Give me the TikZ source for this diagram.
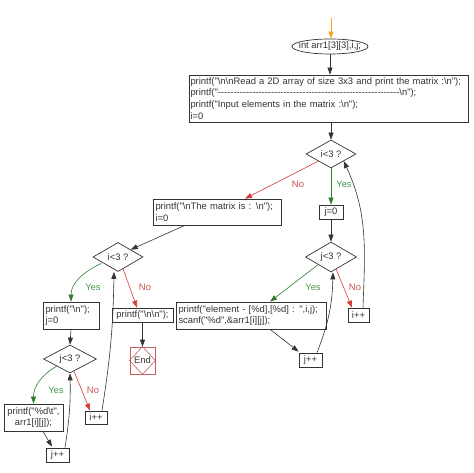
\documentclass[tikz,border=0pt]{standalone}
\usepackage{fontspec}
\setmainfont[Ligatures=TeXOff]{Liberation Sans}
\usetikzlibrary{shapes.geometric,arrows.meta,calc}
\definecolor{ln}{HTML}{333333}
\definecolor{tx}{HTML}{333333}
\definecolor{rl}{HTML}{D63A3A}
\definecolor{rt}{HTML}{C8504D}
\definecolor{gl}{HTML}{2E7D2E}
\definecolor{gt}{HTML}{4A9A4A}
\definecolor{eb}{HTML}{C06060}
\definecolor{og}{HTML}{F5A623}
\newcommand\bs{\textbackslash}
\begin{document}
\begin{tikzpicture}[x=1pt,y=1pt,
  font=\fontsize{9.4}{11.8}\selectfont, text=tx,
  tip/.style={-{Triangle[length=7pt,width=5pt]}},
  conn/.style={tip, draw=ln, line width=0.6pt},
  noline/.style={tip, draw=rl, line width=0.6pt},
  yesline/.style={tip, draw=gl, line width=0.6pt},
  nolab/.style={text=rt},
  yeslab/.style={text=gt},
  box/.style={draw=ln, line width=0.7pt, rectangle, inner sep=0pt, align=center},
  lbox/.style={draw=ln, line width=0.7pt, rectangle, inner xsep=2.5pt, inner ysep=0pt, align=left},
  dia/.style={draw=ln, line width=0.7pt, diamond, inner sep=0pt, aspect=1.7}
]
\useasboundingbox (0,0) rectangle (474,473);

\coordinate (st) at (331,455);
\node[draw=ln, line width=0.7pt, ellipse, inner sep=0pt, minimum width=76pt, minimum height=15pt] (ell) at (330,426.5) {\makebox[0pt]{int arr1[3][3],i,j;}};
\node[lbox, inner xsep=1.5pt, text width=276pt, minimum height=47pt] (box1) at (328.5,374.5) {printf("\bs n\bs nRead a 2D array of size 3x3 and print the matrix :\bs n");\\printf("----------------------------------------------------------\bs n");\\printf("Input elements in the matrix :\bs n");\\i=0};

\node[dia, minimum width=50pt, minimum height=28pt] (dA) at (331,319) {\makebox[0pt]{i<3 ?}};
\node[box, minimum width=24pt, minimum height=14pt] (j0R) at (331,261) {j=0};
\node[dia, minimum width=51pt, minimum height=30pt] (dB) at (331,216) {\makebox[0pt]{j<3 ?}};
\node[lbox, text width=145pt, minimum height=27pt] (elem) at (251,157.5) {printf("element - [\%d],[\%d] : ",i,j);\\scanf("\%d",\&arr1[i][j]);};
\node[box, minimum width=21pt, minimum height=14pt] (iiR) at (358.5,158) {i++};
\node[box, minimum width=23pt, minimum height=14pt] (jjR) at (310.5,113) {j++};

\node[lbox, text width=123pt, minimum height=26pt] (matrix) at (217,261) {printf("\bs nThe matrix is : \bs n");\\i=0};
\node[dia, minimum width=50pt, minimum height=29pt] (dC) at (118,216) {\makebox[0pt]{i<3 ?}};
\node[lbox, text width=51pt, minimum height=27pt] (nlj) at (71,157.5) {printf("\bs n");\\j=0};
\node[box, minimum width=61pt, minimum height=14pt] (nn) at (142.5,158) {printf("\bs n\bs n");};
\node[draw=eb, line width=0.7pt, rectangle, inner sep=0pt, minimum width=25pt, minimum height=27pt] (end) at (142.5,112.5) {End};
\draw[eb, line width=0.6pt] (end.north) -- (end.east) -- (end.south) -- (end.west) -- cycle;
\node[dia, minimum width=53pt, minimum height=28pt] (dD) at (70,114) {\makebox[0pt]{j<3 ?}};
\node[box, minimum width=59pt, minimum height=27pt] (pd) at (33.5,55.5) {printf("\%d\bs t",\\arr1[i][j]);};
\node[box, minimum width=22pt, minimum height=13pt] (iiL) at (96,55.5) {i++};
\node[box, minimum width=23pt, minimum height=14pt] (jjL) at (57.5,18) {j++};

% connectors
\draw[draw=og, line width=0.7pt, -{Triangle[length=7pt,width=5pt,fill=og]}] (st) -- (st |- ell.north);
\draw[conn] (ell.south) -- (ell.south |- box1.north);
\draw[conn] (dA |- box1.south) -- (dA.north);
\draw[noline] (dA.south west) -- ($(matrix.north)+(28,0)$);
\draw[yesline] (dA.south) -- (j0R.north);
\draw[conn] (j0R.south) -- (dB.north);
\draw[yesline] (dB.south west) -- ($(elem.north)+(19,0)$);
\draw[noline] ($(dB.south)!0.2!(dB.east)$) -- ($(iiR.north)+(-6.5,0)$);
\draw[conn] ($(elem.south)+(19,0)$) -- ($(jjR.north west)+(0,1)$);
\draw[conn] ($(jjR.north)+(6.5,0)$) to[bend right=10] ($(dB.south)+(2,0)$);
\draw[conn] ($(iiR.north)+(4.5,0)$) to[out=88,in=-65] (dA.south east);

\draw[conn] ($(matrix.south)+(-32,0)$) -- (dC.north east);
\draw[yesline] ($(dC.south west)+(-4,1)$) to[out=205,in=90] (nlj.north);
\draw[noline] ($(dC.south)!0.2!(dC.east)$) -- ($(nn.north)+(-5.5,0)$);
\draw[conn] (nn.south) -- (end.north);
\draw[conn] (nlj.south) -- (dD.north);
\draw[yesline] (dD.south west) to[out=210,in=90] (pd.north);
\draw[noline] ($(dD.south)!0.15!(dD.east)$) -- ($(iiL.north)+(-6,0)$);
\draw[conn] ($(pd.south)+(9.5,0)$) -- ($(jjL.north)+(-5.5,1)$);
\draw[conn] ($(jjL.north)+(7.5,0)$) to[bend right=5] (dD.south);
\draw[conn] ($(iiL.north)+(6,0)$) to[bend right=4] ($(dC.south)+(-4,0)$);

% labels
\node[nolab] (lN1) at (298,289) {No};
\node[yeslab] (lY1) at (344,289) {Yes};
\node[yeslab] (lY2) at (313,186) {Yes};
\node[nolab] (lN2) at (355,186) {No};
\node[yeslab] (lY3) at (93,186) {Yes};
\node[nolab] (lN3) at (145,186) {No};
\node[yeslab] (lY4) at (56,83) {Yes};
\node[nolab] (lN4) at (93,83) {No};
\end{tikzpicture}
\end{document}
